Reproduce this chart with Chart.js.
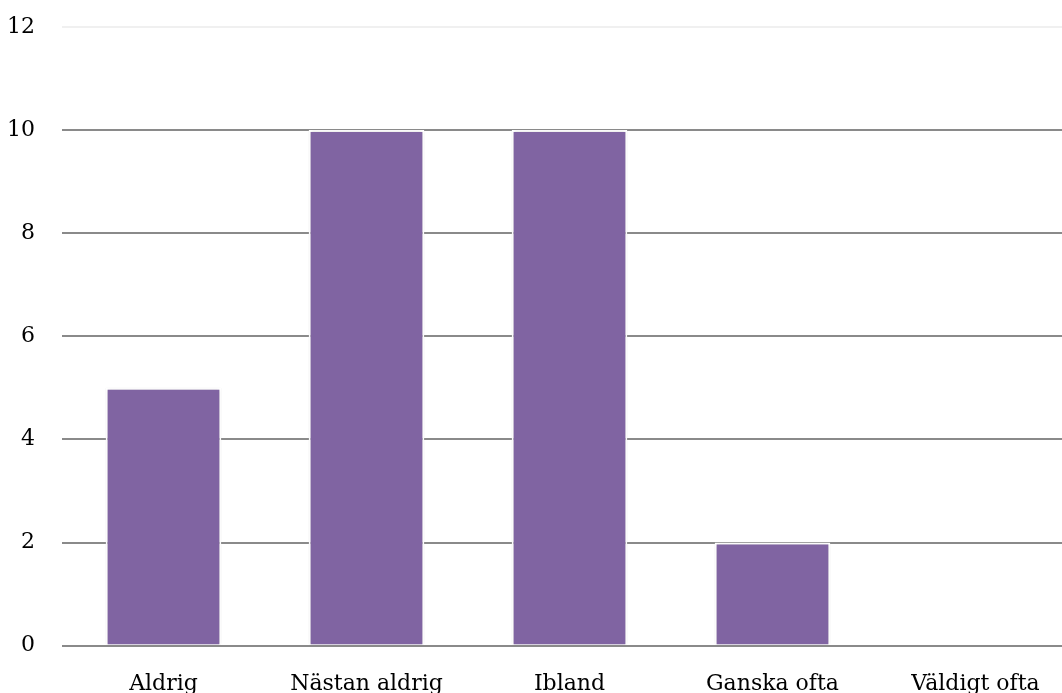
<!DOCTYPE html>
<html>
<head>
<meta charset="utf-8">
<script src="https://cdn.jsdelivr.net/npm/chart.js@4.4.1/dist/chart.umd.min.js"></script>
<style>
  html, body { margin: 0; padding: 0; background: #fff; overflow: hidden; }
  #wrap { width: 1077px; height: 722px; }
</style>
</head>
<body>
<div id="wrap"><canvas id="chart"></canvas></div>
<script>
// svarsalternativ och antal svar
const categories = ['Aldrig', 'Nästan aldrig', 'Ibland', 'Ganska ofta', 'Väldigt ofta'];
const counts = [5, 10, 10, 2, 0];
const yMax = 12;
const yStep = 2;

const ctx = document.querySelector('#chart').getContext('2d');

// lätt skugga runt staplarna
const barShadow = {
  id: 'barShadow',
  beforeDatasetsDraw(chart) {
    chart.ctx.save();
    chart.ctx.shadowColor = 'rgba(0,0,0,0.18)';
    chart.ctx.shadowBlur = 3;
  },
  afterDatasetsDraw(chart) {
    chart.ctx.restore();
  }
};

new Chart(ctx, {
  type: 'bar',
  data: {
    labels: categories,
    datasets: [{
      label: 'Antal',
      data: counts,
      backgroundColor: '#8064A2',
      borderColor: '#ffffff',
      borderWidth: 2,
      categoryPercentage: 0.57,
      barPercentage: 1
    }]
  },
  options: {
    responsive: true,
    maintainAspectRatio: false,
    animation: false,
    layout: { padding: { top: 27, right: 0, bottom: 0, left: 0 } },
    plugins: {
      legend: { display: false },
      tooltip: { enabled: false }
    },
    scales: {
      x: {
        grid: { display: false, drawTicks: false },
        border: { display: false },
        ticks: {
          color: '#000',
          padding: 25,
          maxRotation: 0,
          font: { family: 'DejaVu Serif', size: 22 }
        }
      },
      y: {
        min: 0,
        max: yMax,
        afterFit(scale) {
          // fast bredd, och ingen extra luft ovanför/under axeln
          scale.width = 62;
          scale.paddingTop = 0;
          scale.paddingBottom = 0;
        },
        grid: {
          drawTicks: false,
          lineWidth: 2,
          color: c => c.tick && c.tick.value === yMax ? '#f0f0f0' : '#8a8a8a'
        },
        border: { display: false },
        ticks: {
          stepSize: yStep,
          color: '#000',
          padding: 27,
          font: { family: 'DejaVu Serif', size: 22 }
        }
      }
    }
  },
  plugins: [barShadow]
});
</script>
</body>
</html>
